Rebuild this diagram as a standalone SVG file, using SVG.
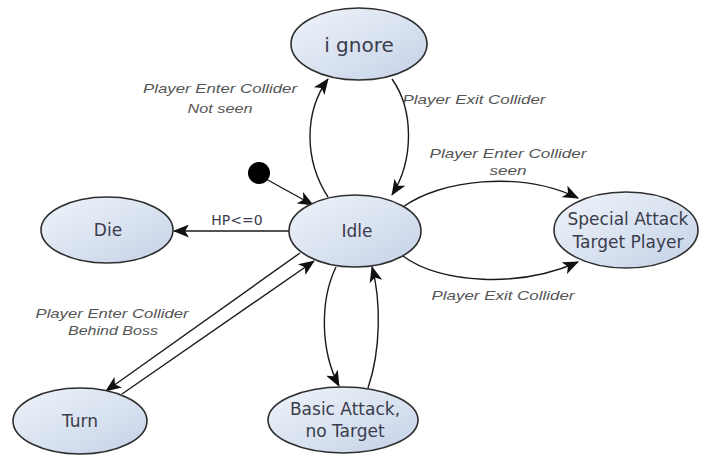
<svg xmlns="http://www.w3.org/2000/svg" width="701" height="455" viewBox="0 0 701 455">
<defs>
<linearGradient id="g" x1="0" y1="0" x2="1" y2="1">
<stop offset="0" stop-color="#f0f4fa"/>
<stop offset="1" stop-color="#c4d2e7"/>
</linearGradient>
<marker id="ah" markerUnits="userSpaceOnUse" markerWidth="16" markerHeight="13" refX="15" refY="6.5" orient="auto">
<path d="M0,0 L16,6.5 L0,13 L4,6.5 Z" fill="#111"/>
</marker>
<style>
.node ellipse{fill:url(#g);stroke:#2e2e2e;stroke-width:1.6}
.nt{font-family:"DejaVu Sans",Verdana,sans-serif;font-size:17px;fill:#3a3c4c;text-anchor:middle}
.lbl{font-family:"Liberation Sans",Arial,sans-serif;font-style:italic;font-size:13px;fill:#555;text-anchor:middle}
.edge{fill:none;stroke:#1a1a1a;stroke-width:1.4;marker-end:url(#ah)}
</style>
</defs>
<rect width="701" height="455" fill="#fff"/>
<g id="connectors">
<line class="edge" x1="266" y1="179" x2="313" y2="205"/>
<path class="edge" d="M328,197 C304,160 304,112 328,79"/>
<path class="edge" d="M392,79 C414,110 414,160 392,195"/>
<path class="edge" d="M403,207 C440,180 520,170 578,198"/>
<path class="edge" d="M403,256 C440,284 520,288 578,262"/>
<line class="edge" x1="291" y1="231" x2="174" y2="231"/>
<line class="edge" x1="300" y1="253" x2="106" y2="391"/>
<line class="edge" x1="122" y1="394" x2="314" y2="261"/>
<path class="edge" d="M336,267 C320,300 320,350 339,386"/>
<path class="edge" d="M368,388 C381,350 381,300 372,267"/>
</g>
<g id="start"><circle cx="259" cy="173" r="11" fill="#000"/></g>
<g id="labels">
<text class="lbl" x="220" y="93" textLength="154" lengthAdjust="spacingAndGlyphs">Player Enter Collider</text>
<text class="lbl" x="220" y="113" textLength="65" lengthAdjust="spacingAndGlyphs">Not seen</text>
<text class="lbl" x="474" y="104" textLength="143" lengthAdjust="spacingAndGlyphs">Player Exit Collider</text>
<text class="lbl" x="508" y="158" textLength="157" lengthAdjust="spacingAndGlyphs">Player Enter Collider</text>
<text class="lbl" x="508" y="175" textLength="37" lengthAdjust="spacingAndGlyphs">seen</text>
<text class="lbl" x="503" y="300" textLength="143" lengthAdjust="spacingAndGlyphs">Player Exit Collider</text>
<text class="lbl" x="112" y="318" textLength="153" lengthAdjust="spacingAndGlyphs">Player Enter Collider</text>
<text class="lbl" x="113" y="335" textLength="90" lengthAdjust="spacingAndGlyphs">Behind Boss</text>
<text x="237" y="225" font-family="DejaVu Sans, Verdana, sans-serif" font-size="14" fill="#3a3c4c" text-anchor="middle">HP&lt;=0</text>
</g>
<g id="ignore" class="node"><ellipse cx="359" cy="44" rx="68" ry="36"/><text class="nt" x="359" y="52" style="font-size:20px">i gnore</text></g>
<g id="idle" class="node"><ellipse cx="355" cy="231" rx="66" ry="36"/><text class="nt" x="357" y="237">Idle</text></g>
<g id="die" class="node"><ellipse cx="107" cy="230" rx="66" ry="33"/><text class="nt" x="108" y="236">Die</text></g>
<g id="special" class="node"><ellipse cx="626" cy="230" rx="72" ry="38"/><text class="nt" x="628" y="225">Special Attack</text><text class="nt" x="628" y="248">Target Player</text></g>
<g id="turn" class="node"><ellipse cx="80" cy="421" rx="67" ry="33"/><text class="nt" x="80" y="427">Turn</text></g>
<g id="basic" class="node"><ellipse cx="343" cy="420" rx="75" ry="33"/><text class="nt" x="345" y="415">Basic Attack,</text><text class="nt" x="345" y="437">no Target</text></g>
</svg>
